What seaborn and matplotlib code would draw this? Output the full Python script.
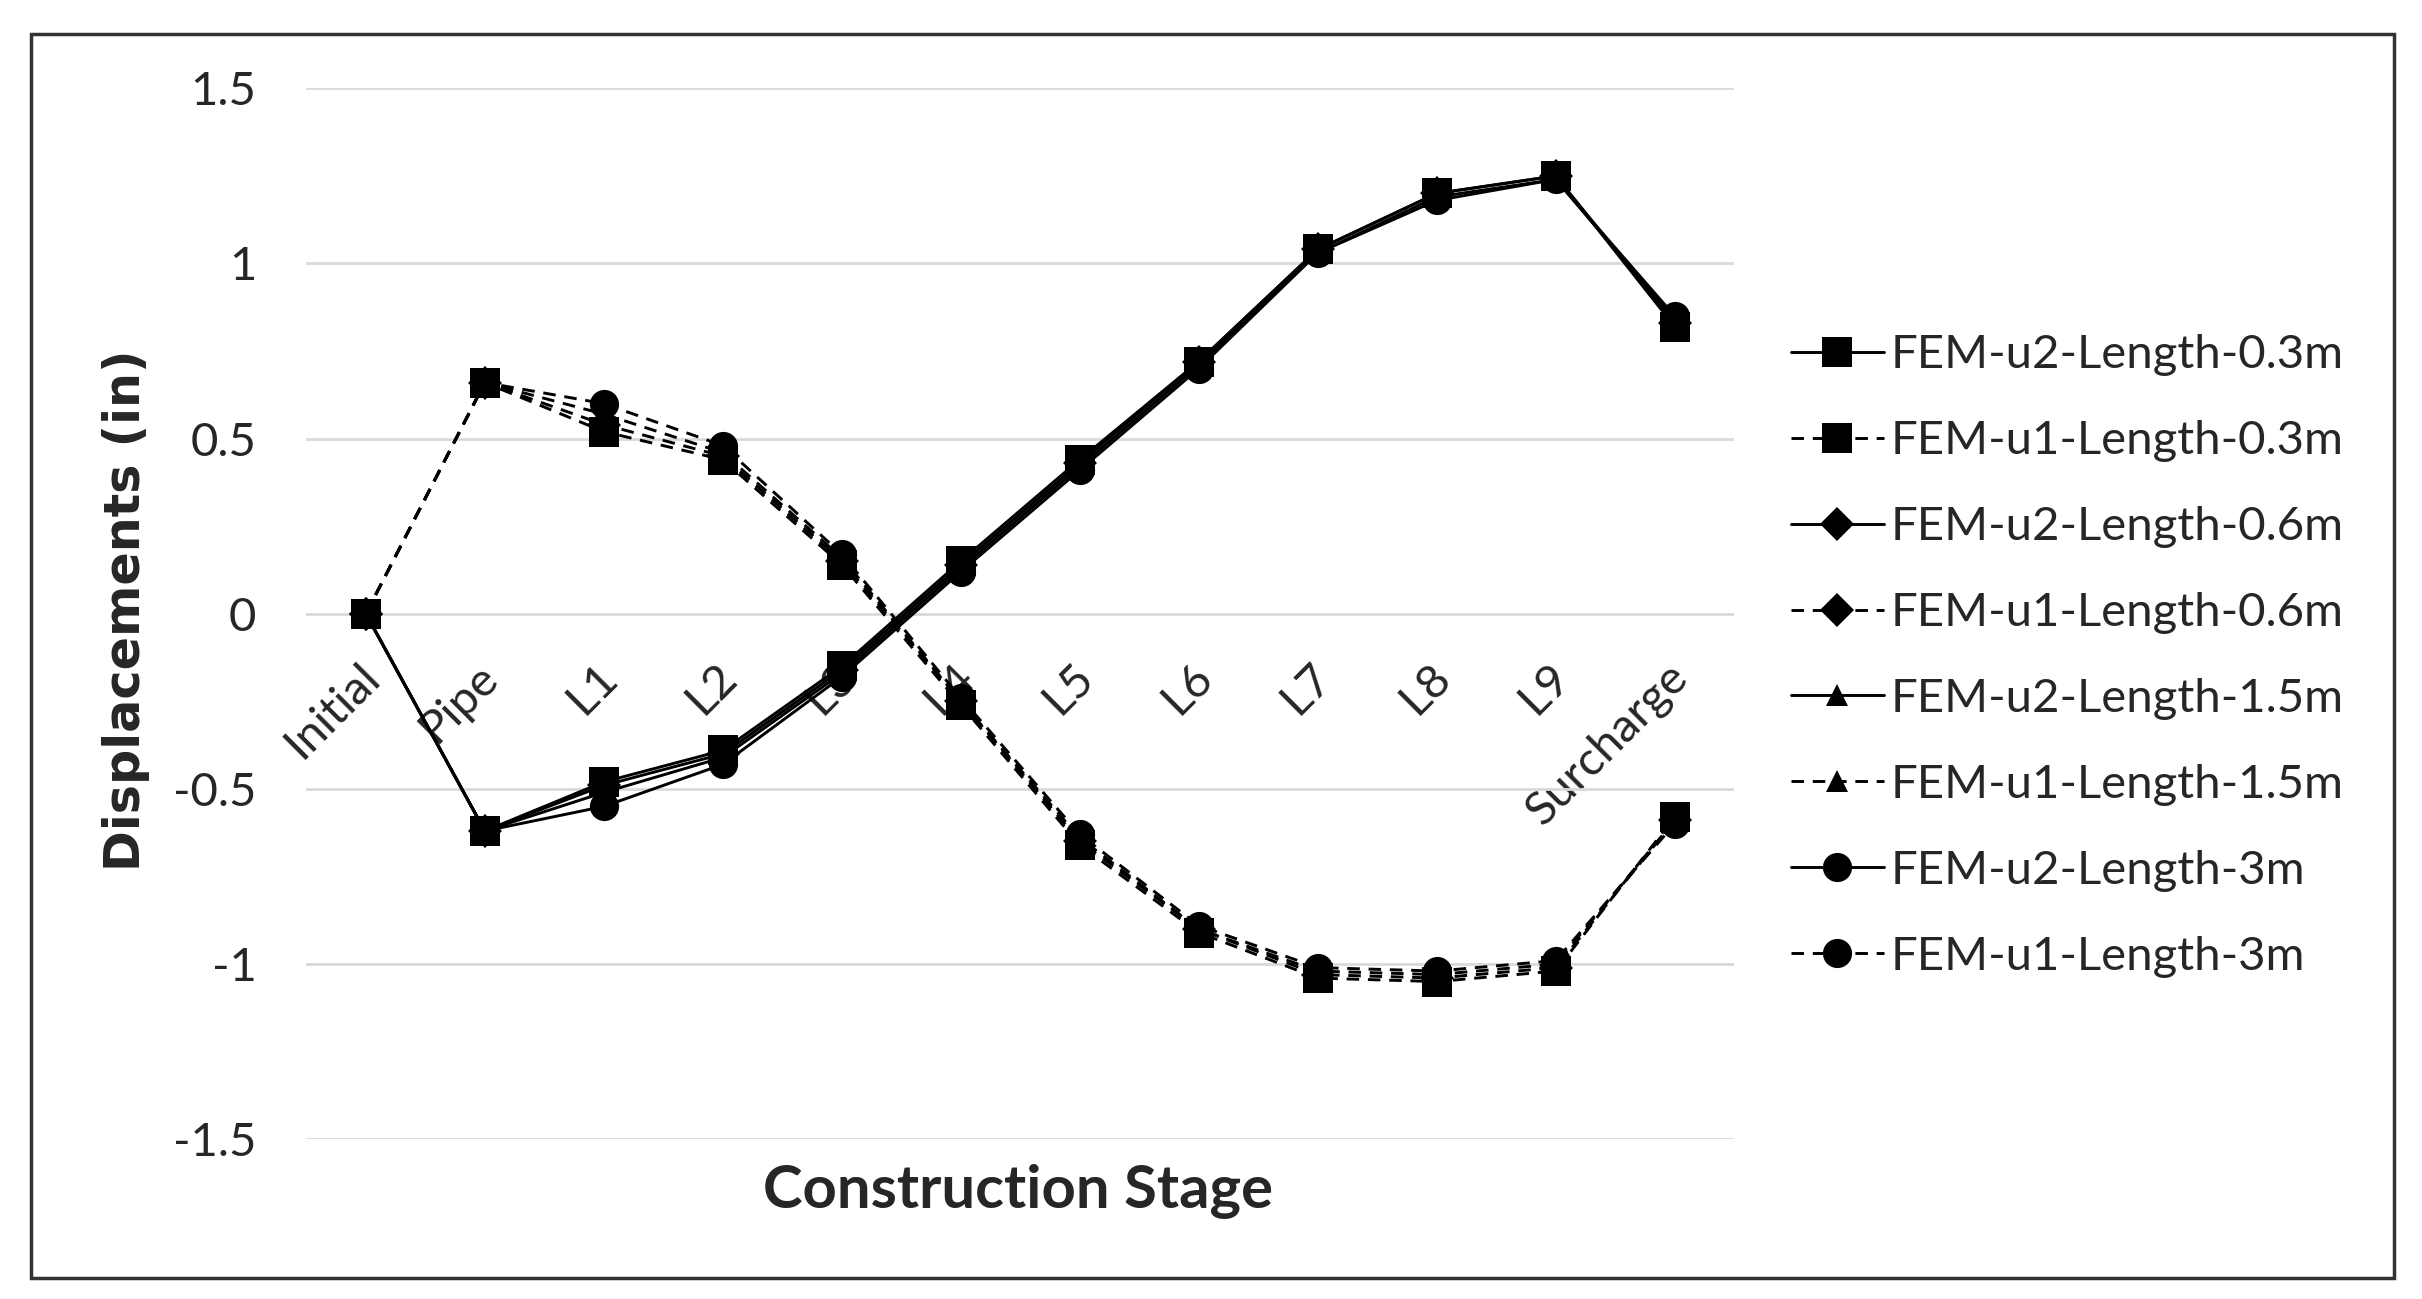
import numpy as np
import pandas as pd
import seaborn as sns
import matplotlib.pyplot as plt
import matplotlib.transforms as mtransforms
from matplotlib.patches import Rectangle

stages = ['Initial', 'Pipe', 'L1', 'L2', 'L3', 'L4', 'L5', 'L6', 'L7', 'L8', 'L9', 'Surcharge']

# vertical displacement u2 (solid) and horizontal u1 (dashed), inches
u2_03 = [0, -0.62, -0.48, -0.39, -0.15, 0.15, 0.44, 0.72, 1.04, 1.20, 1.25, 0.82]
u1_03 = [0, 0.66, 0.52, 0.44, 0.14, -0.26, -0.66, -0.91, -1.04, -1.05, -1.02, -0.58]
u2_06 = [0, -0.62, -0.49, -0.40, -0.16, 0.14, 0.43, 0.72, 1.04, 1.20, 1.25, 0.83]
u1_06 = [0, 0.66, 0.54, 0.45, 0.15, -0.25, -0.65, -0.90, -1.03, -1.04, -1.01, -0.59]
u2_15 = [0, -0.62, -0.51, -0.41, -0.17, 0.13, 0.42, 0.71, 1.03, 1.19, 1.24, 0.84]
u1_15 = [0, 0.66, 0.57, 0.46, 0.16, -0.25, -0.64, -0.90, -1.02, -1.03, -1.00, -0.59]
u2_3 = [0, -0.62, -0.55, -0.43, -0.18, 0.12, 0.41, 0.70, 1.03, 1.18, 1.24, 0.85]
u1_3 = [0, 0.66, 0.60, 0.48, 0.17, -0.24, -0.63, -0.89, -1.01, -1.02, -0.99, -0.60]

series = [
    ('FEM-u2-Length-0.3m', u2_03, 's', '-'),
    ('FEM-u1-Length-0.3m', u1_03, 's', '--'),
    ('FEM-u2-Length-0.6m', u2_06, 'D', '-'),
    ('FEM-u1-Length-0.6m', u1_06, 'D', '--'),
    ('FEM-u2-Length-1.5m', u2_15, '^', '-'),
    ('FEM-u1-Length-1.5m', u1_15, '^', '--'),
    ('FEM-u2-Length-3m', u2_3, 'o', '-'),
    ('FEM-u1-Length-3m', u1_3, 'o', '--'),
]

sns.set_style('white')
plt.rcParams['font.family'] = ['Lato', 'DejaVu Sans']

fig = plt.figure(figsize=(24.22, 12.99), dpi=100)
ax = fig.add_axes([0.1265, 0.123, 0.5895, 0.809])

msize = {'s': 21, 'D': 17, '^': 16, 'o': 21}
for name, vals, mk, ls in series:
    df = pd.DataFrame({'stage': stages, 'disp': vals})
    style = (0, (4.3, 3)) if ls == '--' else '-'
    sns.lineplot(data=df, x='stage', y='disp', ax=ax, color='black', marker=mk,
                 markersize=msize[mk], markeredgewidth=0, linestyle=style,
                 linewidth=2.1, sort=False, errorbar=None, label=name)

ax.set_xlim(-0.5, len(stages) - 0.5)
ax.set_ylim(-1.5, 1.5)
ax.set_yticks([-1.5, -1, -0.5, 0, 0.5, 1, 1.5])
ax.set_yticklabels(['-1.5', '-1', '-0.5', '0', '0.5', '1', '1.5'])
ax.grid(axis='y', color='#d9d9d9', linewidth=2)
ax.set_axisbelow(True)
for s in ['top', 'right', 'left']:
    ax.spines[s].set_visible(False)
ax.spines['bottom'].set_position(('data', 0))
ax.spines['bottom'].set_color('none')
ax.tick_params(axis='y', length=0, pad=36, labelsize=34)
ax.tick_params(axis='x', length=0, pad=30, labelsize=34)
shift = mtransforms.ScaledTranslation(-0.08, 0, fig.dpi_scale_trans)
for lab in ax.get_xticklabels():
    lab.set_rotation(45)
    lab.set_ha('right')
    lab.set_rotation_mode('anchor')
    lab.set_transform(lab.get_transform() + shift)

ax.set_xlabel('')
ax.set_ylabel('')
fig.text(0.4205, 0.083, 'Construction Stage', fontsize=43, fontweight='bold', ha='center', va='center')
fig.text(0.052, 0.53, 'Displacements (in)', fontsize=35.5, fontweight='bold', ha='center', va='center',
         rotation=90, family='DejaVu Sans')

ax.legend(loc='center left', bbox_to_anchor=(0.7395, 0.495), bbox_transform=fig.transFigure,
          frameon=False, fontsize=34, handlelength=1.96, handletextpad=0.15, labelspacing=0.93,
          borderpad=0, borderaxespad=0)

fig.patches.append(Rectangle((0.0128, 0.016), 0.9757, 0.958, transform=fig.transFigure,
                             fill=False, edgecolor='#333333', linewidth=2.5))

fig.savefig('out.png', dpi=100, facecolor='white')
